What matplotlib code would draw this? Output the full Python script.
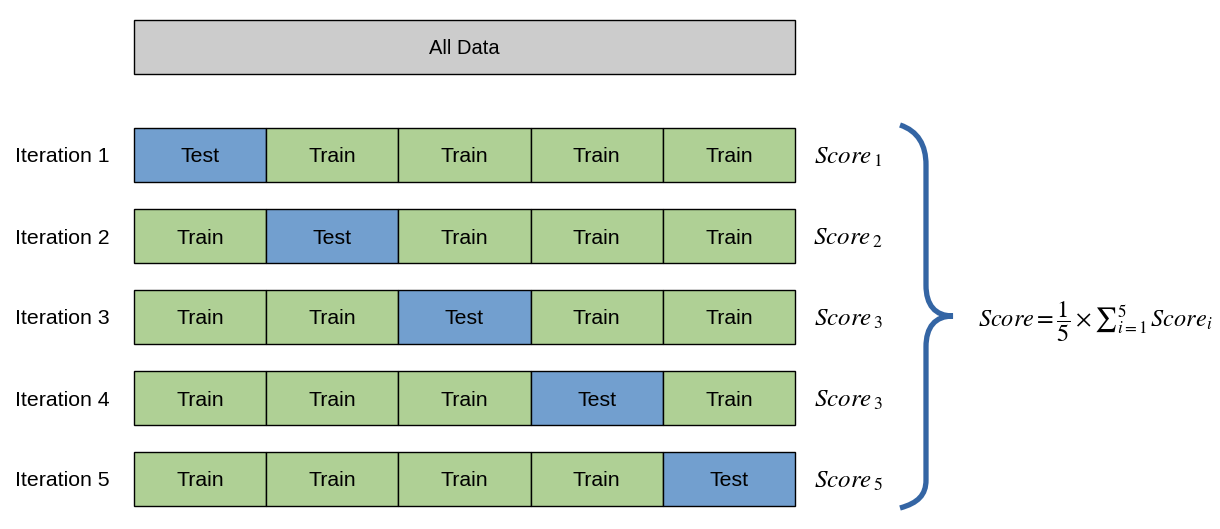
import numpy as np
import matplotlib.pyplot as plt
from matplotlib.path import Path
from matplotlib.patches import Rectangle, PathPatch

plt.rcParams['font.family'] = ['Liberation Sans', 'DejaVu Sans']
plt.rcParams['mathtext.fontset'] = 'stix'

iterations = ['Iteration 1', 'Iteration 2', 'Iteration 3', 'Iteration 4', 'Iteration 5']
test_fold = [0, 1, 2, 3, 4]
score_subs = ['1', '2', '3', '3', '5']
n_folds = 5

test_color = '#729fcf'
train_color = '#afd095'
all_color = '#cccccc'
brace_color = '#3465a4'

# layout in pixels
x0, x1 = 134, 795
cell_w = (x1 - x0) / n_folds
box_h = 54
all_top = 20
row_top0 = 128
row_step = 81

fig = plt.figure(figsize=(12.2, 5.29), dpi=100)
ax = fig.add_axes([0, 0, 1, 1])
ax.set_xlim(0, 1220)
ax.set_ylim(529, 0)
ax.axis('off')

# all data bar
ax.add_patch(Rectangle((x0, all_top), x1 - x0, box_h, facecolor=all_color,
                       edgecolor='black', lw=1))
ax.text((x0 + x1) / 2, all_top + box_h / 2, 'All Data', ha='center',
        va='center_baseline', fontsize=14.5)

for i, name in enumerate(iterations):
    top = row_top0 + i * row_step
    yc = top + box_h / 2
    ax.text(62, yc, name, ha='center', va='center_baseline', fontsize=15.3)
    for j in range(n_folds):
        is_test = j == test_fold[i]
        ax.add_patch(Rectangle((x0 + j * cell_w, top), cell_w, box_h,
                               facecolor=test_color if is_test else train_color,
                               edgecolor='black', lw=1))
        ax.text(x0 + (j + 0.5) * cell_w, yc, 'Test' if is_test else 'Train',
                ha='center', va='center_baseline', fontsize=15.3)
    ax.text(848, yc - 1, r'$Score_{\,%s}$' % score_subs[i], ha='center',
            va='center_baseline', fontsize=18)

# curly brace
verts = [(900, 125), (918, 131), (926, 145), (926, 165),
         (926, 285),
         (926, 305), (935, 316), (953, 316),
         (935, 316), (926, 327), (926, 347),
         (926, 480),
         (926, 495), (918, 503), (900, 508)]
codes = [Path.MOVETO, Path.CURVE4, Path.CURVE4, Path.CURVE4,
         Path.LINETO,
         Path.CURVE4, Path.CURVE4, Path.CURVE4,
         Path.CURVE4, Path.CURVE4, Path.CURVE4,
         Path.LINETO,
         Path.CURVE4, Path.CURVE4, Path.CURVE4]
ax.add_patch(PathPatch(Path(verts, codes), facecolor='none', edgecolor=brace_color,
                       lw=3.8, capstyle='butt'))

ax.text(978, 313, r'$Score = \dfrac{1}{5} \times {\sum}_{i=1}^{5}\, Score_i$',
        ha='left', va='center_baseline', fontsize=17.5)

fig.savefig('out.png', dpi=100)
